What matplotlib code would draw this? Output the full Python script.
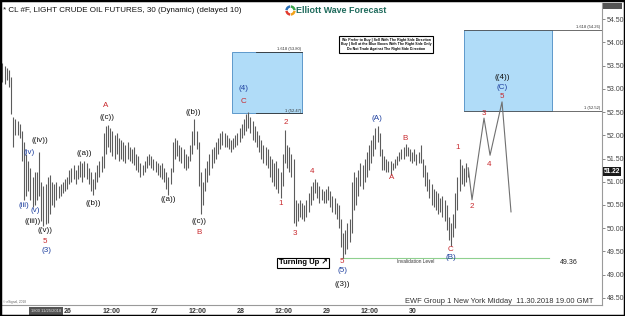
import matplotlib
matplotlib.use('Agg')
import matplotlib.pyplot as plt
from matplotlib.patches import Rectangle, Wedge
import numpy as np

plt.rcParams['font.family'] = ['Liberation Sans', 'DejaVu Sans']

# ---------------- data ----------------
start_day = 25.24
bar_step = 0.025
highs = [53.56, 53.50, 53.45, 53.40, 53.25, 52.40, 52.35, 52.30, 52.25, 52.10,
         51.85, 51.60, 51.45, 51.30, 51.10, 51.20, 51.20, 51.65, 51.00, 50.90,
         50.95, 51.10, 51.15, 51.00, 50.95, 51.00, 50.90, 50.95, 51.00, 51.05,
         51.10, 51.25, 51.30, 51.35, 51.25, 51.35, 51.45, 51.40, 51.45, 51.40,
         51.30, 51.20, 51.05, 51.20, 51.35, 51.45, 51.55, 52.05, 52.20, 52.22,
         52.15, 52.10, 52.00, 52.05, 51.95, 51.90, 51.85, 51.80, 51.85, 51.75,
         51.70, 51.75, 51.60, 51.55, 51.40, 51.35, 51.45, 51.55, 51.60, 51.55,
         51.50, 51.45, 51.40, 51.35, 51.40, 51.30, 51.20, 51.10, 51.30, 51.85,
         51.95, 51.90, 51.80, 51.75, 51.70, 51.60, 51.55, 51.80, 52.10, 52.35,
         52.10, 51.85, 51.20, 51.00, 51.30, 51.45, 51.60, 51.70, 51.75, 51.85,
         51.95, 52.05, 52.10, 52.05, 52.00, 51.95, 51.90, 51.95, 52.00, 52.05,
         52.15, 52.25, 52.35, 52.45, 52.50, 52.40, 52.30, 52.20, 52.10, 52.00,
         51.90, 51.80, 51.75, 51.70, 51.55, 51.50, 51.40, 51.45, 51.30, 51.20,
         51.60, 52.12, 51.80, 51.75, 51.60, 51.50, 50.60, 50.55, 50.60, 50.55,
         50.50, 50.60, 50.75, 50.90, 51.00, 51.05, 51.00, 50.90, 50.85, 50.80,
         50.85, 50.90, 50.80, 50.70, 50.65, 50.55, 50.50, 50.20, 49.90, 49.95,
         50.10, 50.20, 51.00, 51.20, 51.10, 51.25, 51.40, 51.35, 51.50, 51.65,
         51.80, 51.90, 52.00, 52.15, 52.20, 52.05, 51.70, 51.55, 51.50, 51.45,
         51.45, 51.40, 51.50, 51.55, 51.65, 51.70, 51.75, 51.82, 51.75, 51.70,
         51.65, 51.70, 51.60, 51.65, 51.80, 51.50, 51.35, 51.20, 51.05, 50.95,
         50.85, 50.80, 50.75, 50.65, 50.70, 50.60, 50.50, 50.25, 50.10, 50.30,
         50.75, 51.10, 51.50, 51.35, 51.30, 51.40, 51.30]
lows = [53.15, 53.10, 53.20, 53.05, 52.45, 51.75, 52.00, 52.00, 51.95, 51.45,
        50.60, 50.70, 50.80, 50.60, 50.45, 50.50, 50.60, 50.70, 50.15, 50.05,
        50.08, 50.10, 50.30, 50.50, 50.45, 50.60, 50.65, 50.70, 50.75, 50.80,
        50.85, 50.95, 51.00, 51.05, 50.95, 51.05, 51.10, 51.00, 51.10, 51.05,
        50.95, 50.80, 50.72, 50.85, 51.00, 51.10, 51.20, 51.30, 51.60, 51.75,
        51.65, 51.55, 51.50, 51.60, 51.45, 51.50, 51.45, 51.40, 51.50, 51.45,
        51.40, 51.35, 51.25, 51.20, 51.10, 51.15, 51.20, 51.30, 51.35, 51.30,
        51.25, 51.20, 51.15, 51.10, 51.05, 51.00, 50.85, 50.72, 50.95, 51.20,
        51.50, 51.55, 51.45, 51.40, 51.30, 51.25, 51.30, 51.45, 51.60, 51.80,
        51.70, 50.90, 50.30, 50.50, 50.80, 51.00, 51.15, 51.30, 51.40, 51.50,
        51.60, 51.70, 51.80, 51.75, 51.75, 51.70, 51.65, 51.70, 51.75, 51.80,
        51.85, 51.95, 52.00, 52.10, 52.15, 52.05, 51.90, 51.85, 51.75, 51.65,
        51.50, 51.40, 51.35, 51.30, 51.10, 51.00, 50.90, 50.85, 50.75, 50.65,
        50.90, 51.40, 51.30, 51.20, 51.10, 50.10, 50.05, 50.15, 50.25, 50.20,
        50.15, 50.25, 50.35, 50.50, 50.60, 50.75, 50.65, 50.55, 50.60, 50.55,
        50.55, 50.60, 50.45, 50.35, 50.30, 50.20, 50.00, 49.60, 49.36, 49.45,
        49.55, 49.70, 49.90, 50.40, 50.50, 50.70, 50.90, 50.85, 51.00, 51.10,
        51.25, 51.40, 51.55, 51.70, 51.85, 51.55, 51.25, 51.25, 51.20, 51.20,
        51.15, 51.25, 51.30, 51.35, 51.45, 51.50, 51.50, 51.55, 51.55, 51.45,
        51.40, 51.45, 51.35, 51.40, 51.40, 51.10, 50.90, 50.80, 50.65, 50.50,
        50.45, 50.40, 50.30, 50.35, 50.25, 50.15, 49.95, 49.75, 49.62, 49.80,
        50.00, 50.40, 50.80, 50.95, 50.90, 51.00, 51.10]

proj_days = [30.64, 30.684, 30.823, 30.893, 31.032, 31.136]
proj_prices = [51.30, 50.61, 52.37, 51.57, 52.72, 50.35]

box1 = dict(d0=27.898, d1=28.713, lo=52.47, hi=53.80)
box2 = dict(d0=30.591, d1=31.612, lo=52.52, hi=54.26)
invalidation_level = 49.36
last_price = 51.22

y_ticks = [48.5, 49.0, 49.5, 50.0, 50.5, 51.0, 51.5, 52.0, 52.5, 53.0, 53.5, 54.0, 54.5]
x_ticks = [26, 26.5, 27, 27.5, 28, 28.5, 29, 29.5, 30]
x_tick_labels = ['26', '12:00', '27', '12:00', '28', '12:00', '29', '12:00', '30']

RED = '#c8282d'
BLUE = '#1d3f9f'
BLK = '#111111'
wave_labels = [
    ('(iv)', 25.548, 51.64, BLUE), ('(iii)', 25.490, 50.48, BLUE), ('(v)', 25.617, 50.39, BLUE),
    ('((iv))', 25.675, 51.88, BLK), ('((iii))', 25.594, 50.15, BLK), ('((v))', 25.733, 49.94, BLK),
    ('5', 25.733, 49.72, RED), ('(3)', 25.745, 49.51, BLUE),
    ('((a))', 26.186, 51.60, BLK), ('((b))', 26.29, 50.54, BLK), ('((c))', 26.452, 52.39, BLK),
    ('A', 26.44, 52.65, RED),
    ('((a))', 27.159, 50.61, BLK), ('((b))', 27.449, 52.50, BLK), ('((c))', 27.519, 50.15, BLK),
    ('B', 27.519, 49.91, RED),
    ('(4)', 28.04, 53.00, BLUE), ('C', 28.04, 52.72, RED),
    ('1', 28.47, 50.52, RED), ('2', 28.528, 52.28, RED), ('3', 28.632, 49.89, RED),
    ('4', 28.829, 51.21, RED), ('5', 29.177, 49.29, RED), ('(5)', 29.177, 49.08, BLUE),
    ('((3))', 29.177, 48.79, BLK),
    ('(A)', 29.583, 52.37, BLUE), ('A', 29.757, 51.10, RED), ('B', 29.907, 51.94, RED),
    ('C', 30.429, 49.53, RED), ('(B)', 30.441, 49.36, BLUE),
    ('1', 30.522, 51.73, RED), ('2', 30.684, 50.46, RED), ('3', 30.823, 52.46, RED),
    ('4', 30.881, 51.38, RED), ('5', 31.032, 52.83, RED), ('(C)', 31.032, 53.02, BLUE),
    ('((4))', 31.032, 53.24, BLK),
]

# ---------------- figure ----------------
W, H = 625, 316
fig = plt.figure(figsize=(W / 100, H / 100), dpi=100)
fig.patch.set_facecolor('white')
ax = fig.add_axes([2 / W, 11 / H, 600 / W, 302 / H])
ax.set_xlim(25.2348, 32.191)
ax.set_ylim(48.343, 54.851)

for s in ['top', 'left']:
    ax.spines[s].set_visible(False)
for s in ['right', 'bottom']:
    ax.spines[s].set_color('#9a9a9a')
    ax.spines[s].set_linewidth(0.8)

ax.yaxis.tick_right()
ax.set_yticks(y_ticks)
ax.set_yticklabels(['%.2f' % v for v in y_ticks], fontsize=5, color='#444444')
ax.tick_params(axis='y', length=2, pad=1.5, width=0.6, colors='#777777', labelcolor='#444444')
ax.set_xticks(x_ticks)
ax.set_xticklabels(x_tick_labels, fontsize=5, color='#333333', fontweight='bold')
ax.tick_params(axis='x', length=0, pad=2)

# boxes
for b in (box1, box2):
    ax.add_patch(Rectangle((b['d0'], b['lo']), b['d1'] - b['d0'], b['hi'] - b['lo'],
                           facecolor='#b0dcf8', edgecolor='#4a8cc4', linewidth=0.6, zorder=1))

# fib lines box1
ax.plot([box1['d0'] + 0.28, box1['d1']], [box1['hi'], box1['hi']], color='#333333', lw=0.6, zorder=2)
ax.plot([box1['d0'] + 0.28, box1['d1']], [box1['lo'], box1['lo']], color='#333333', lw=0.6, zorder=2)
ax.text(box1['d1'] - 0.01, box1['hi'] + 0.02, '1.618 (53.80)', fontsize=3, ha='right', va='bottom', color='#333333')
ax.text(box1['d1'] - 0.01, box1['lo'] + 0.02, '1 (52.47)', fontsize=3, ha='right', va='bottom', color='#333333')
# fib lines box2 (extend to axis)
ax.plot([box2['d0'], 32.191], [box2['hi'], box2['hi']], color='#555555', lw=0.6, zorder=2)
ax.plot([box2['d0'], 32.191], [box2['lo'], box2['lo']], color='#555555', lw=0.6, zorder=2)
ax.text(32.17, box2['hi'] + 0.02, '1.618 (54.26)', fontsize=3, ha='right', va='bottom', color='#333333')
ax.text(32.17, box2['lo'] + 0.02, '1 (52.52)', fontsize=3, ha='right', va='bottom', color='#333333')

# OHLC bars (high-low lines)
days = [start_day + i * bar_step for i in range(len(highs))]
ax.vlines(days, lows, highs, color='#5c5c5c', linewidth=0.8, zorder=3)

# projection
ax.plot(proj_days, proj_prices, color='#707070', lw=0.8, zorder=3)

# invalidation line
ax.plot([29.18, 31.58], [invalidation_level, invalidation_level], color='#8fd08f', lw=0.8, zorder=2)
ax.text(30.03, invalidation_level - 0.03, 'Invalidation Level', fontsize=3.4, ha='center', va='top', color='#333333')
ax.text(31.7, invalidation_level - 0.03, '%.2f' % invalidation_level, fontsize=5, ha='left', va='top', color='#222222')

# wave labels
for t, d, p, c in wave_labels:
    ax.text(d, p, t, fontsize=5.8, ha='center', va='center', color=c, zorder=5)

# current price tag on the right axis
ax.text(1.003, (last_price - 48.343) / (54.851 - 48.343), '%.2f' % last_price, transform=ax.transAxes,
        fontsize=4.8, color='white', ha='left', va='center', fontweight='bold',
        bbox=dict(boxstyle='square,pad=0.15', facecolor='#1a1a1a', edgecolor='none'), clip_on=False)


# ---------------- figure-level decorations ----------------
def fx(x):
    return x / W


def fy(y):
    return 1 - y / H


fig.text(fx(3), fy(10), '* CL #F, LIGHT CRUDE OIL FUTURES, 30 (Dynamic) (delayed 10)',
         fontsize=5.8, ha='left', va='center', color='#111111')

# logo (small ring in its own equal-aspect axes)
lax = fig.add_axes([fx(285), fy(16), 11 / W, 11 / H])
lax.set_xlim(-1, 1)
lax.set_ylim(-1, 1)
lax.set_aspect('equal')
lax.axis('off')
cols = ['#3aa449', '#2a6fb7', '#e23b2e', '#f2a21b']
for k, c in enumerate(cols):
    lax.add_patch(Wedge((0, 0), 0.95, k * 90 + 5, k * 90 + 85, width=0.45, facecolor=c, edgecolor='none'))
fig.text(fx(296), fy(10.5), 'Elliott Wave Forecast', fontsize=6.4, fontweight='bold',
         ha='left', va='center', color='#1f6b5c')

# rule box
fig.text(fx(386), fy(44.5),
         'We Prefer to Buy | Sell With The Right Side Direction\n'
         'Buy | Sell at the Blue Boxes With The Right Side Only\n'
         'Do Not Trade Against The Right Side Direction',
         fontsize=2.5, fontweight='bold', ha='center', va='center', color='black', linespacing=1.3,
         bbox=dict(boxstyle='square,pad=0.6', facecolor='white', edgecolor='black', linewidth=0.8))

# turning up box
fig.text(fx(303), fy(263), 'Turning Up \u2197', fontsize=5.5, fontweight='bold', ha='center', va='center',
         color='black', family=['Liberation Sans', 'DejaVu Sans'],
         bbox=dict(boxstyle='square,pad=0.25', facecolor='white', edgecolor='black', linewidth=0.8))

# bottom-right stamp
fig.text(fx(593), fy(301.5), 'EWF Group 1 New York Midday  11.30.2018 19.00 GMT', fontsize=5.4,
         ha='right', va='center', color='#333333')

# bottom-left little items
fig.text(fx(3), fy(302), '\u00a9 eSignal, 2018', fontsize=2.3, ha='left', va='center', color='#666666')
fig.patches.append(Rectangle((fx(29), fy(315)), fx(34), 8 / H, transform=fig.transFigure,
                             facecolor='#555555', edgecolor='none'))
fig.text(fx(46), fy(311), '1800 11/25/2018', fontsize=3, ha='center', va='center', color='#dddddd')

# top-right dark tag
fig.patches.append(Rectangle((fx(603), fy(9)), fx(19), 6 / H, transform=fig.transFigure,
                             facecolor='#555555', edgecolor='none'))

# frame
fig.patches.append(Rectangle((0, 0), 1, 1, transform=fig.transFigure, fill=False,
                             edgecolor='black', linewidth=2.5))

fig.savefig('out.png', dpi=100)
